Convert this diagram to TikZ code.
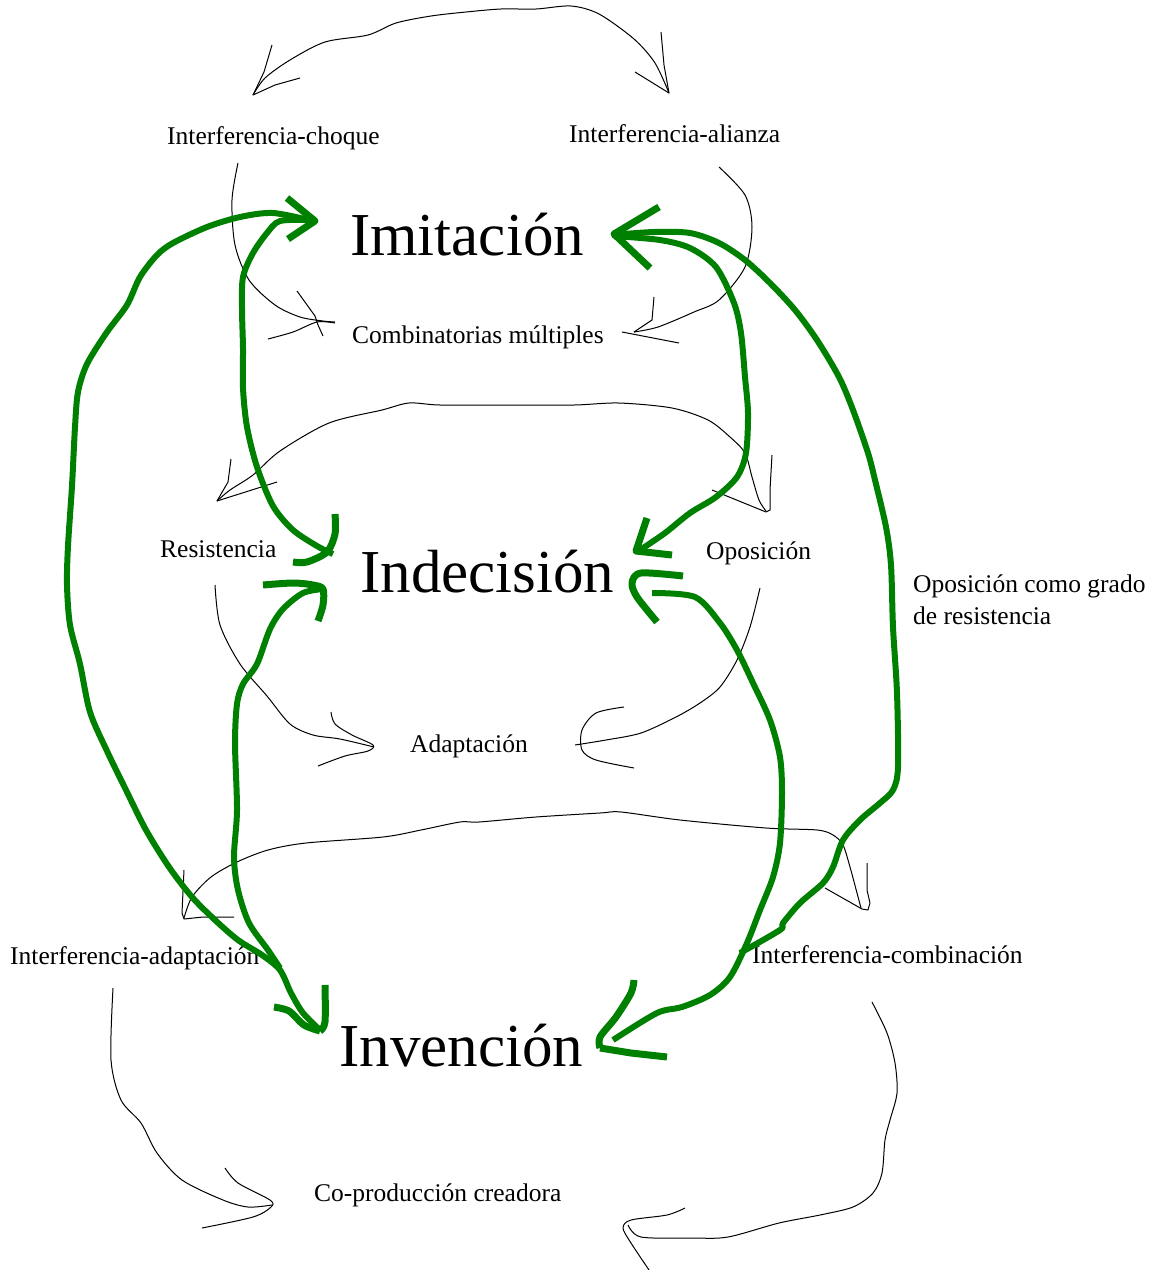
\documentclass[tikz,border=0pt]{standalone}
\usepackage{fontspec}
\setmainfont{Liberation Serif}
\definecolor{gr}{RGB}{0,128,0}
\begin{document}
\begin{tikzpicture}[x=1pt,y=-1pt,
  pen/.style={line width=1pt, black, line join=round},
  gpen/.style={line width=6pt, gr, line join=round},
  garm/.style={line width=7pt, gr, line join=round},
  sm/.style={font=\fontsize{25.5}{32}\selectfont, inner sep=0pt, anchor=base west},
  bigl/.style={font=\fontsize{61}{70}\selectfont, inner sep=0pt, anchor=base west}]
\useasboundingbox (0,0) rectangle (1167,1270);

% ---------- labels ----------
\node[sm] (ichoque) at (167,144) {Interferencia-choque};
\node[sm] (ialianza) at (569,142) {Interferencia-alianza};
\node[bigl] (imit) at (350,255) {Imitación};
\node[sm] (comb) at (352,343) {Combinatorias múltiples};
\node[sm] (resist) at (160,557) {Resistencia};
\node[bigl] (indec) at (360,592) {Indecisión};
\node[sm] (opos) at (706,559) {Oposición};
\node[sm] (grado1) at (913,592) {Oposición como grado};
\node[sm] (grado2) at (913,624) {de resistencia};
\node[sm] (adapt) at (410,752) {Adaptación};
\node[sm] (iadapt) at (10,964) {Interferencia-adaptación};
\node[sm] (icomb) at (752,963) {Interferencia-combinación};
\node[bigl] (inven) at (339,1066) {Invención};
\node[sm] (coprod) at (314,1201) {Co-producción creadora};

% ---------- thin black hand-drawn arrows ----------
% top arc (choque <-> alianza)
\draw[pen] plot[smooth] coordinates {(253,95) (265,78) (290,60) (325,42) (368,35) (396,23) (431,16) (466,12) (501,9) (536,9) (571,6) (599,14) (634,39) (655,63) (669,93)};
\draw[pen] (272,45) -- (264,72) -- (253,95) -- (275,85) -- (300,78);
\draw[pen] (661,32) -- (664,65) -- (669,93) -- (635,72);
% upper-left arc (choque -> combinatorias)
\draw[pen] plot[smooth] coordinates {(238,163) (232,200) (235,245) (249,280) (275,305) (300,317) (323,321) (335,322)};
\draw[pen] (297,291) -- (315,316) -- (318,325) -- (323,336);
\draw[pen] plot[smooth] coordinates {(268,339) (293,332) (317,322) (335,323)};
% upper-right arc (alianza -> combinatorias)
\draw[pen] plot[smooth] coordinates {(719,167) (745,195) (752,227) (745,267) (719,300) (694,312) (658,327) (634,332)};
\draw[pen] (654,297) -- (652,320) -- (634,332);
\draw[pen] (622,332) -- (679,343);
% middle arc (resistencia <-> oposicion)
\draw[pen] plot[smooth] coordinates {(217,501) (230,490) (253,475) (280,451) (329,423) (382,410) (409,403) (440,405) (507,405) (574,405) (619,403) (672,408) (708,420) (730,437) (745,453) (752,477) (759,500) (766,511)};
\draw[pen] (231,459) -- (228,482) -- (217,501) -- (277,482);
\draw[pen] (772,455) -- (770,490) -- (770,510) -- (766,512) -- (712,490);
% left-middle arc (resistencia -> adaptacion)
\draw[pen] plot[smooth] coordinates {(215,585) (220,625) (240,664) (267,696) (290,724) (313,735) (340,739) (374,747)};
\draw[pen] plot[smooth] coordinates {(331,712) (335,724) (352,735) (373,745) (368,751) (345,756) (318,766)};
% right-middle arc (oposicion -> adaptacion)
\draw[pen] plot[smooth] coordinates {(760,588) (750,627) (737,660) (720,687) (700,703) (676,717) (641,733) (606,740) (575,745)};
\draw[pen] plot[smooth] coordinates {(624,707) (596,713) (582,730) (582,750) (596,760) (634,768)};
% bottom big arc (adaptacion <-> combinacion)
\draw[pen] plot[smooth] coordinates {(184,918) (192,897) (211,877) (237,862) (268,850) (306,843) (383,837) (421,830) (460,822) (479,822) (536,817) (600,813) (621,812) (680,820) (766,828) (817,830) (833,835) (843,845) (850,867) (857,893) (861,908)};
\draw[pen] (184,870) -- (182,913) -- (184,919) -- (203,917) -- (234,917);
\draw[pen] (867,863) -- (867,890) -- (870,903) -- (868,910) -- (862,909) -- (825,888);
% bottom-left arc (i-adaptacion -> co-produccion)
\draw[pen] plot[smooth] coordinates {(113,988) (111,1060) (121,1100) (141,1123) (157,1153) (182,1180) (223,1200) (248,1207) (272,1205)};
\draw[pen] plot[smooth] coordinates {(225,1168) (238,1183) (270,1200) (271,1207) (253,1217) (202,1228)};
% bottom-right arc (i-combinacion -> co-produccion)
\draw[pen] plot[smooth] coordinates {(872,1002) (887,1033) (895,1063) (897,1093) (890,1120) (885,1140) (882,1173) (873,1193) (853,1207) (820,1215) (779,1223) (728,1237) (692,1238) (641,1237) (628,1225)};
\draw[pen] plot[smooth] coordinates {(685,1208) (667,1215) (631,1220) (623,1228) (631,1243) (649,1270)};

% ---------- thick green arrows ----------
% outer left loop (Imitacion <-> Invencion)
\draw[gpen] plot[smooth] coordinates {(313,221) (273,213) (240,217) (207,227) (173,243) (157,255) (140,277) (127,305) (107,332) (87,364) (78,392) (75,427) (72,486) (68,546) (67,585) (70,625) (80,664) (90,712) (107,751) (126,790) (146,830) (169,867) (192,897) (215,920) (238,940) (262,955) (280,970) (291,993) (303,1013) (320,1030)};
% inner left upper (Imitacion <-> Indecision)
\draw[gpen] plot[smooth] coordinates {(310,220) (280,221) (267,233) (253,253) (243,277) (242,309) (243,348) (243,388) (247,427) (257,467) (273,506) (293,530) (317,546) (333,554)};
\draw[garm] plot[smooth] coordinates {(335,514) (335,534) (327,552) (307,562) (293,562)};
\draw[garm] (287,198) -- (315,221) -- (288,239);
% inner left lower (Indecision <-> Invencion)
\draw[gpen] plot[smooth] coordinates {(323,589) (303,593) (283,609) (270,629) (257,664) (243,684) (237,704) (235,743) (237,810) (234,857) (238,890) (249,923) (268,950) (280,968)};
\draw[garm] plot[smooth] coordinates {(263,585) (293,583) (313,585) (323,589) (323,605) (318,621)};
\draw[garm] plot[smooth] coordinates {(325,985) (325,1022) (320,1031)};
\draw[garm] plot[smooth] coordinates {(320,1031) (304,1025) (289,1011) (274,1007)};
% outer right (Imitacion <-> Invencion)
\draw[gpen] plot[smooth] coordinates {(612,235) (654,232) (690,233) (719,243) (745,260) (770,283) (795,310) (817,340) (839,377) (853,410) (868,453) (875,480) (886,527) (891,565) (893,627) (897,693) (898,767) (893,790) (880,803) (860,820) (843,840) (833,867) (823,883) (800,903) (783,923) (780,930) (740,953)};
\draw[garm] (659,207) -- (614,234) -- (650,268);
% inner right upper (Imitacion <-> Indecision)
\draw[gpen] plot[smooth] coordinates {(614,236) (660,240) (690,248) (716,267) (734,303) (741,333) (745,377) (748,413) (746,453) (737,477) (716,497) (690,513) (665,533) (640,550)};
\draw[garm] (647,518) -- (636,551) -- (672,555);
% inner right lower (Indecision <-> Invencion)
\draw[gpen] plot[smooth] coordinates {(652,593) (695,597) (720,623) (737,650) (753,683) (770,720) (780,757) (782,793) (780,843) (773,877) (760,910) (747,943) (730,977) (710,995) (682,1007) (657,1013) (613,1040)};
\draw[garm] plot[smooth] coordinates {(683,576) (641,573) (632,583) (637,597) (657,622)};
\draw[garm] plot[smooth] coordinates {(634,980) (631,993) (616,1017) (600,1037) (600,1048)};
\draw[garm] (600,1048) -- (631,1053) -- (667,1057);
\end{tikzpicture}
\end{document}
